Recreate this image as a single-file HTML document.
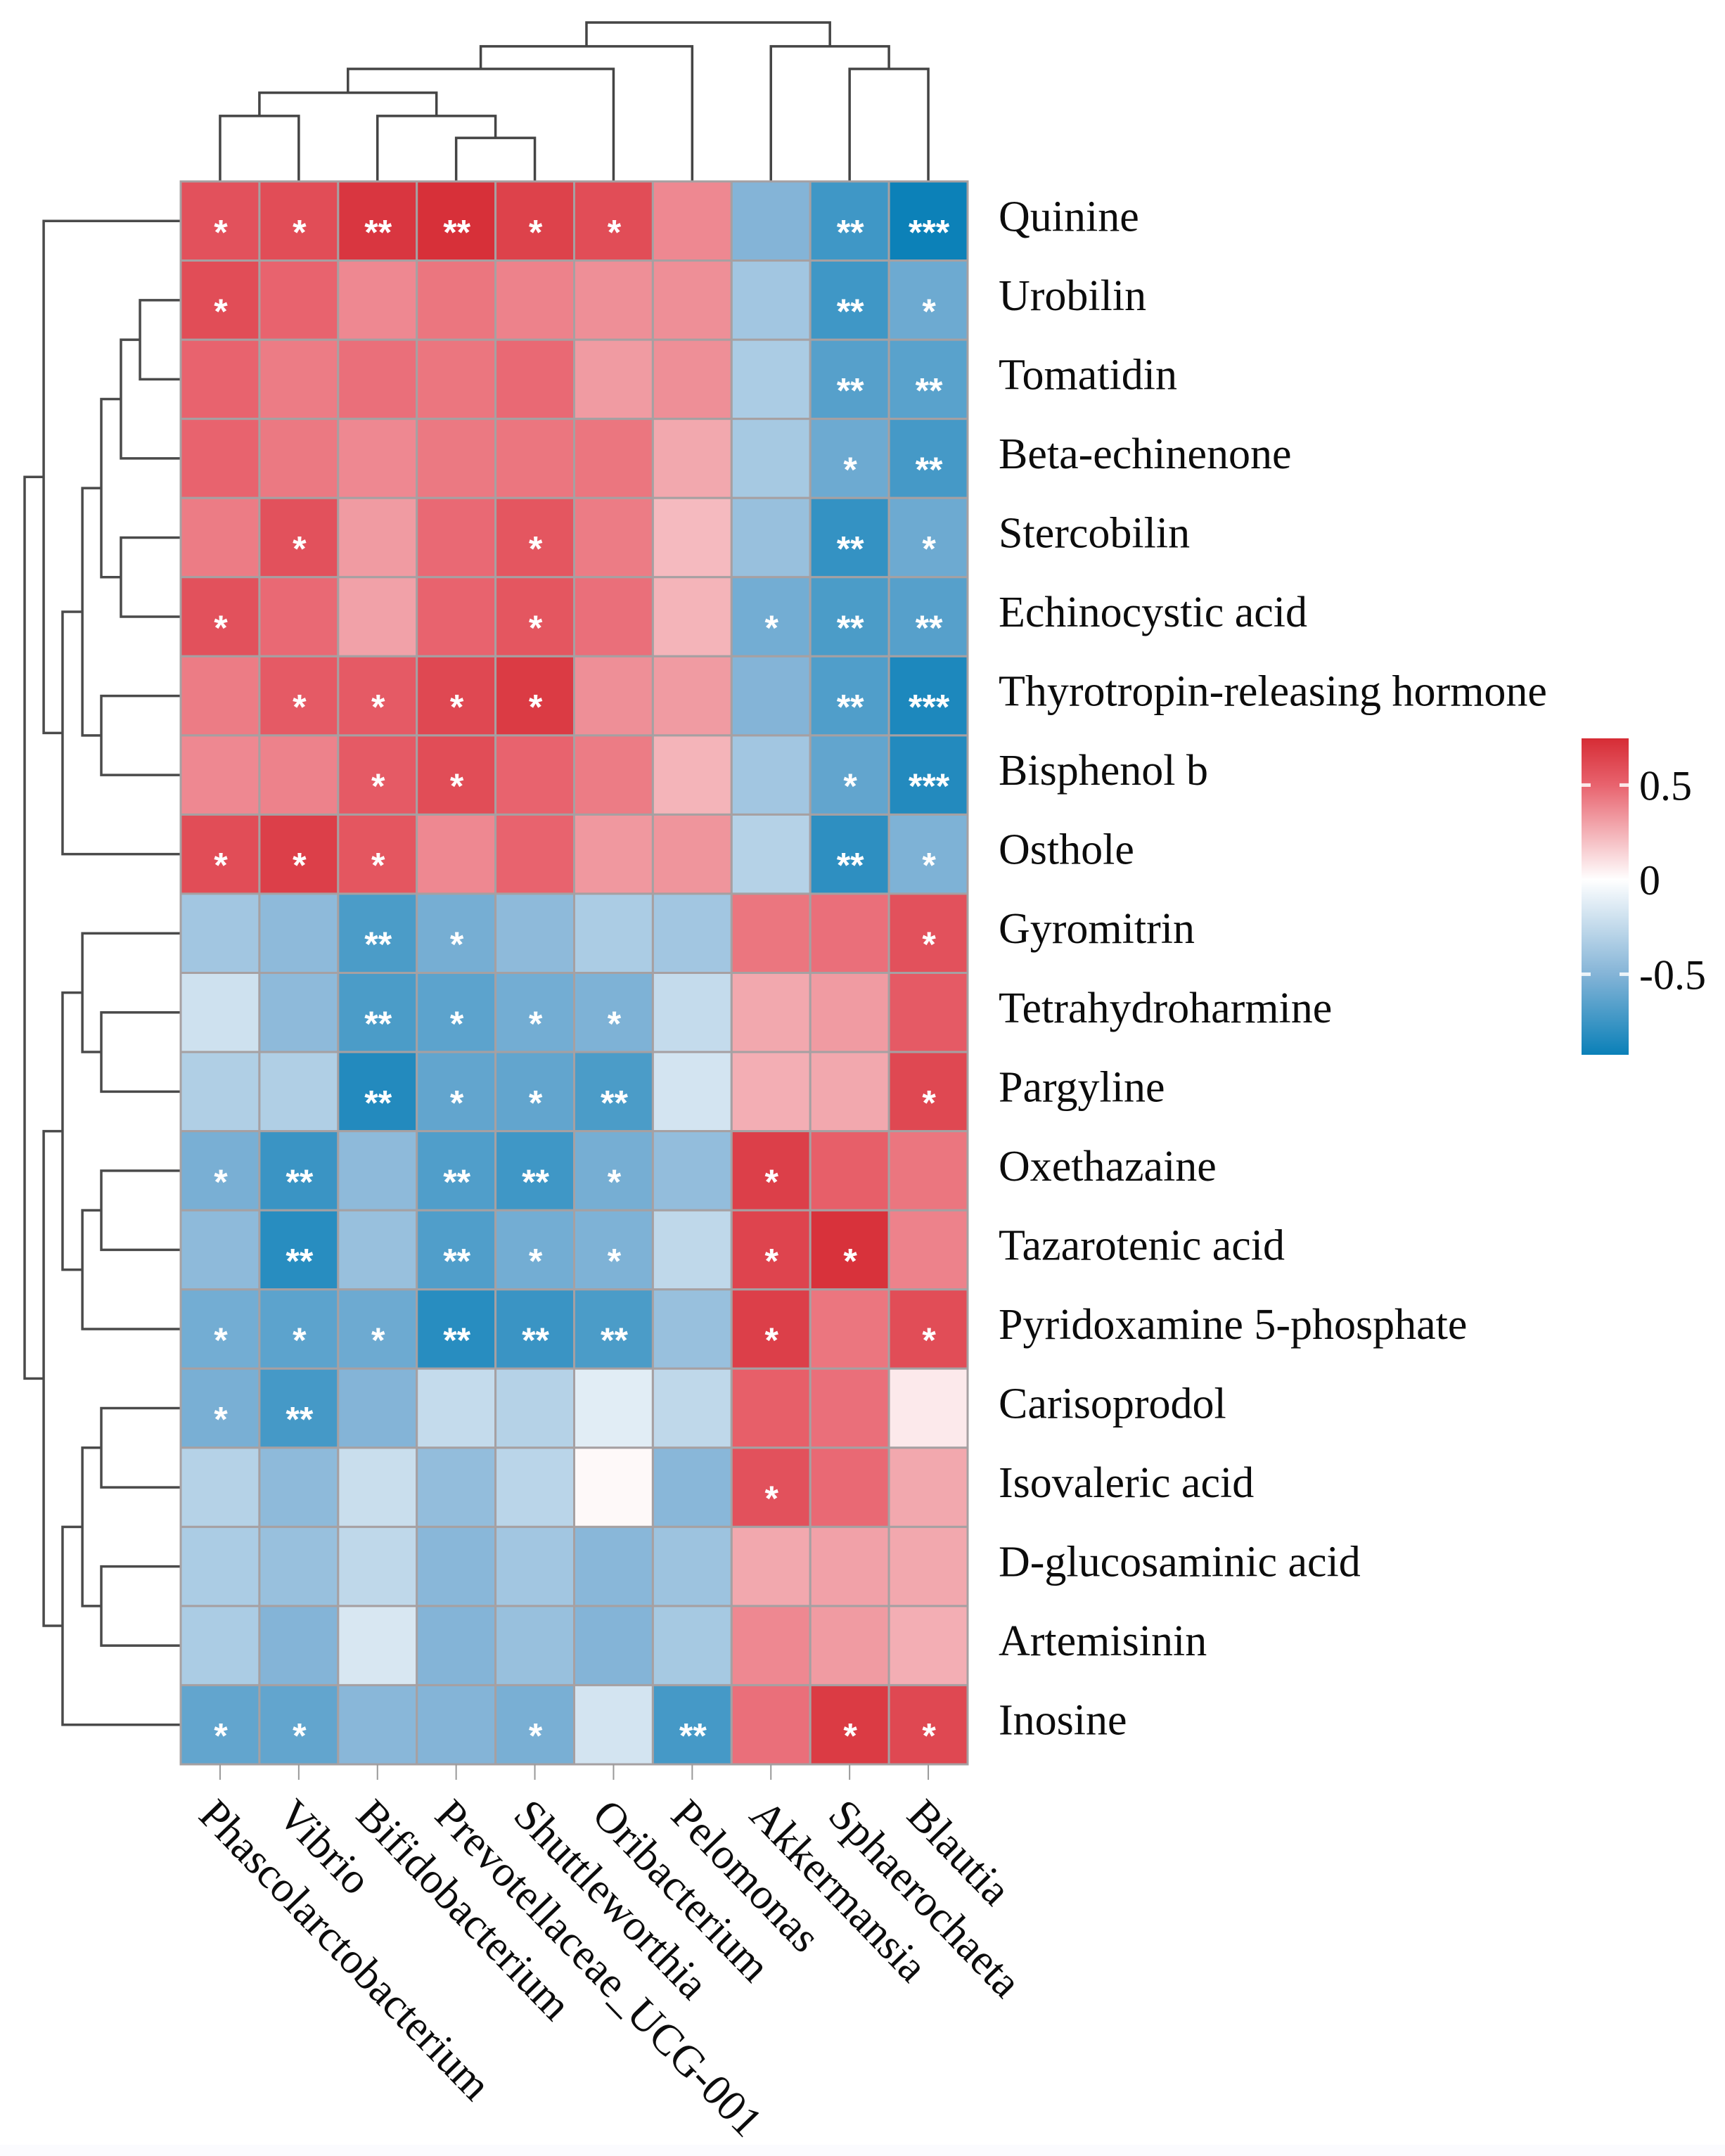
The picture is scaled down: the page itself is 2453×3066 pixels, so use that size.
<!DOCTYPE html>
<html lang="en">
<head>
<meta charset="utf-8">
<title>Correlation heatmap of metabolites and bacterial genera</title>
<style>
html,body{margin:0;padding:0;background:#fff;}
svg{display:block;}
text{font-family:"Liberation Serif",serif;fill:#0c0c0c;}
.star{font-family:"Liberation Sans",sans-serif;font-weight:bold;fill:#fff;}
</style>
</head>
<body>
<svg id="chart" xmlns="http://www.w3.org/2000/svg" width="2453" height="3066" viewBox="0 0 2453 3066">
<defs>
<linearGradient id="legend-gradient" x1="0" y1="0" x2="0" y2="1"></linearGradient>
</defs>
<rect width="2453" height="3066" fill="#fff"/>
<rect y="3050" width="2453" height="16" fill="#fbfbfe"/>
<g id="top-dendrogram" fill="none" stroke="#444" stroke-width="3.5"></g>
<g id="left-dendrogram" fill="none" stroke="#4a4a4a" stroke-width="3.5"></g>
<g id="cells"></g>
<g id="stars"></g>
<g id="x-ticks" stroke="#999" stroke-width="2"></g>
<g id="row-labels"></g>
<g id="col-labels"></g>
<g id="legend"></g>
</svg>
<script>
const rowLabels = ["Quinine","Urobilin","Tomatidin","Beta-echinenone","Stercobilin","Echinocystic acid","Thyrotropin-releasing hormone","Bisphenol b","Osthole","Gyromitrin","Tetrahydroharmine","Pargyline","Oxethazaine","Tazarotenic acid","Pyridoxamine 5-phosphate","Carisoprodol","Isovaleric acid","D-glucosaminic acid","Artemisinin","Inosine"];
const colLabels = ["Phascolarctobacterium","Vibrio","Bifidobacterium","Prevotellaceae_UCG-001","Shuttleworthia","Oribacterium","Pelomonas","Akkermansia","Sphaerochaeta","Blautia"];
const cellValues = [
[.58,.60,.70,.73,.65,.60,.38,-.50,-.74,-.92],
[.60,.50,.38,.44,.40,.36,.36,-.38,-.74,-.58],
[.50,.42,.46,.44,.48,.32,.36,-.34,-.66,-.65],
[.50,.43,.38,.43,.44,.44,.28,-.36,-.58,-.72],
[.42,.58,.32,.48,.56,.42,.22,-.42,-.78,-.58],
[.58,.48,.30,.50,.56,.46,.24,-.56,-.70,-.66],
[.42,.54,.54,.62,.68,.36,.32,-.50,-.68,-.86],
[.38,.40,.54,.60,.50,.42,.24,-.38,-.62,-.84],
[.60,.66,.56,.38,.50,.33,.34,-.30,-.80,-.52],
[-.38,-.46,-.70,-.55,-.46,-.34,-.38,.44,.46,.58],
[-.20,-.46,-.70,-.64,-.56,-.52,-.24,.28,.32,.54],
[-.32,-.32,-.84,-.62,-.62,-.70,-.18,.26,.28,.62],
[-.54,-.76,-.46,-.68,-.74,-.55,-.44,.66,.52,.44],
[-.46,-.82,-.42,-.68,-.56,-.52,-.26,.64,.72,.40],
[-.56,-.64,-.58,-.82,-.76,-.70,-.42,.66,.44,.60],
[-.54,-.72,-.50,-.24,-.30,-.12,-.26,.52,.46,.07],
[-.30,-.46,-.22,-.44,-.28,.02,-.48,.58,.48,.28],
[-.34,-.42,-.26,-.48,-.38,-.48,-.40,.28,.30,.28],
[-.34,-.50,-.16,-.50,-.42,-.50,-.36,.38,.32,.26],
[-.62,-.62,-.48,-.50,-.54,-.18,-.72,.46,.68,.62]
];
const starCounts = [
[1,1,2,2,1,1,0,0,2,3],
[1,0,0,0,0,0,0,0,2,1],
[0,0,0,0,0,0,0,0,2,2],
[0,0,0,0,0,0,0,0,1,2],
[0,1,0,0,1,0,0,0,2,1],
[1,0,0,0,1,0,0,1,2,2],
[0,1,1,1,1,0,0,0,2,3],
[0,0,1,1,0,0,0,0,1,3],
[1,1,1,0,0,0,0,0,2,1],
[0,0,2,1,0,0,0,0,0,1],
[0,0,2,1,1,1,0,0,0,0],
[0,0,2,1,1,2,0,0,0,1],
[1,2,0,2,2,1,0,1,0,0],
[0,2,0,2,1,1,0,1,1,0],
[1,1,1,2,2,2,0,1,0,1],
[1,2,0,0,0,0,0,0,0,0],
[0,0,0,0,0,0,0,1,0,0],
[0,0,0,0,0,0,0,0,0,0],
[0,0,0,0,0,0,0,0,0,0],
[1,1,0,0,1,0,2,0,1,1]
];
const legendTicks = [0.5, 0, -0.5];
const legendTickLabels = ["0.5", "0", "-0.5"];
const legendRange = [-0.926, 0.747];
const colorStopValues = [-0.926, -0.5, 0, 0.5, 0.747];
const colorStopColors = ["#0a80b8", "#84b4d7", "#ffffff", "#e8636e", "#d62c35"];
// Dendrogram trees: [merge distance, left branch, right branch]; integers are leaf indexes.
const colTree = [100, [85, [70.8, [55.8, [41.2, 0, 1], [41.2, 2, [27.4, 3, 4]]], 5], 6], [85, 7, [70.8, 8, 9]]];
const rowTree = [100,
  [87.8, 0, [75.7, [63, [50.9, [38.3, [26.1, 1, 2], 3], [38.3, 4, 5]], [50.9, 6, 7]], 8]],
  [87.8,
    [75.7, [63, 9, [50.9, 10, 11]], [63, [50.9, 12, 13], 14]],
    [75.7, [63, [50.9, 15, 16], [50.9, 17, 18]], 19]
  ]
];

const NS = "http://www.w3.org/2000/svg";
const plotLeft = 257, plotTop = 258, plotWidth = 1119, plotHeight = 2251;
const legendLeft = 2249, legendTop = 1050, legendWidth = 67, legendHeight = 450;
const colStep = plotWidth / colLabels.length, rowStep = plotHeight / rowLabels.length;
const xCol = i => plotLeft + colStep * i;
const yRow = i => plotTop + rowStep * i;
const xColMid = i => xCol(i) + colStep / 2;
const yRowMid = i => yRow(i) + rowStep / 2;
const yColDist = d => plotTop - d * 2.26;
const xRowDist = d => plotLeft - d * 2.22;
const yLegend = v => legendTop + (legendRange[1] - v) / (legendRange[1] - legendRange[0]) * legendHeight;

function make(tag, attrs, parent) {
  const el = document.createElementNS(NS, tag);
  for (const k in attrs) el.setAttribute(k, attrs[k]);
  parent.appendChild(el);
  return el;
}
function hexToRgb(h) {
  return [parseInt(h.slice(1, 3), 16), parseInt(h.slice(3, 5), 16), parseInt(h.slice(5, 7), 16)];
}
function colorFor(v) {
  const vs = colorStopValues;
  if (v <= vs[0]) return colorStopColors[0];
  for (let i = 1; i < vs.length; i++) {
    if (v <= vs[i]) {
      const t = (v - vs[i - 1]) / (vs[i] - vs[i - 1]);
      const a = hexToRgb(colorStopColors[i - 1]), b = hexToRgb(colorStopColors[i]);
      return "rgb(" + a.map((c, j) => Math.round(c + (b[j] - c) * t)).join(",") + ")";
    }
  }
  return colorStopColors[vs.length - 1];
}

// heatmap cells, stars
const cellsG = document.getElementById("cells");
const starsG = document.getElementById("stars");
cellValues.forEach((row, r) => {
  row.forEach((v, c) => {
    const cell = make("rect", {x: xCol(c), y: yRow(r), width: colStep, height: rowStep, fill: colorFor(v), stroke: "#a6a0a2", "stroke-width": 3}, cellsG);
    
    
    const n = starCounts[r][c];
    if (n > 0) {
      const s = make("text", {class: "star", x: xColMid(c) + 1, y: yRowMid(r) + 33, "text-anchor": "middle", "font-size": 50}, starsG);
      s.textContent = "*".repeat(n);
      
      
    }
  });
});

// row labels
const rowLabelsG = document.getElementById("row-labels");
rowLabels.forEach((t, r) => {
  const el = make("text", {x: 1420, y: yRowMid(r) + 14, "font-size": 62}, rowLabelsG);
  el.textContent = t;
  
  
});

// column ticks and labels
const colLabelsG = document.getElementById("col-labels");
const ticksG = document.getElementById("x-ticks");
colLabels.forEach((t, c) => {
  const tick = make("line", {x1: xColMid(c), x2: xColMid(c), y1: plotTop + plotHeight, y2: plotTop + plotHeight + 22}, ticksG);
  
  
  const lx = xColMid(c) - 33, ly = plotTop + plotHeight + 75;
  const el = make("text", {x: lx, y: ly, "font-size": 62, transform: "rotate(46 " + lx + " " + ly + ")"}, colLabelsG);
  el.textContent = t;
  
  
});

// dendrograms
function drawCol(node, g) {
  if (typeof node === "number") return {pos: xColMid(node), y: plotTop};
  const a = drawCol(node[1], g), b = drawCol(node[2], g), y = yColDist(node[0]);
  const p = make("path", {d: "M" + a.pos + " " + a.y + "V" + y + "H" + b.pos + "V" + b.y}, g);
  
  
  return {pos: (a.pos + b.pos) / 2, y: y};
}
function drawRow(node, g) {
  if (typeof node === "number") return {pos: yRowMid(node), x: plotLeft};
  const a = drawRow(node[1], g), b = drawRow(node[2], g), x = xRowDist(node[0]);
  const p = make("path", {d: "M" + a.x + " " + a.pos + "H" + x + "V" + b.pos + "H" + b.x}, g);
  
  
  return {pos: (a.pos + b.pos) / 2, x: x};
}
drawCol(colTree, document.getElementById("top-dendrogram"));
drawRow(rowTree, document.getElementById("left-dendrogram"));

// legend
const grad = document.getElementById("legend-gradient");
colorStopValues.slice().reverse().forEach((v, i) => {
  const stop = make("stop", {offset: (legendRange[1] - v) / (legendRange[1] - legendRange[0]), "stop-color": colorStopColors[colorStopColors.length - 1 - i]}, grad);
  
  
});
const legendG = document.getElementById("legend");
const bar = make("rect", {x: legendLeft, y: legendTop, width: legendWidth, height: legendHeight, fill: "url(#legend-gradient)"}, legendG);


legendTicks.forEach((v, i) => {
  const y = yLegend(v);
  if (v !== 0) {
    [legendLeft, legendLeft + legendWidth - 13].forEach(x => {
      const m = make("rect", {x: x, y: y - 2.5, width: 13, height: 5, fill: "#fff", opacity: 0.85}, legendG);
      
      
    });
  }
  const label = make("text", {x: 2331, y: y + 21, "font-size": 60}, legendG);
  label.textContent = legendTickLabels[i];
  
  
});
</script>
</body>
</html>
